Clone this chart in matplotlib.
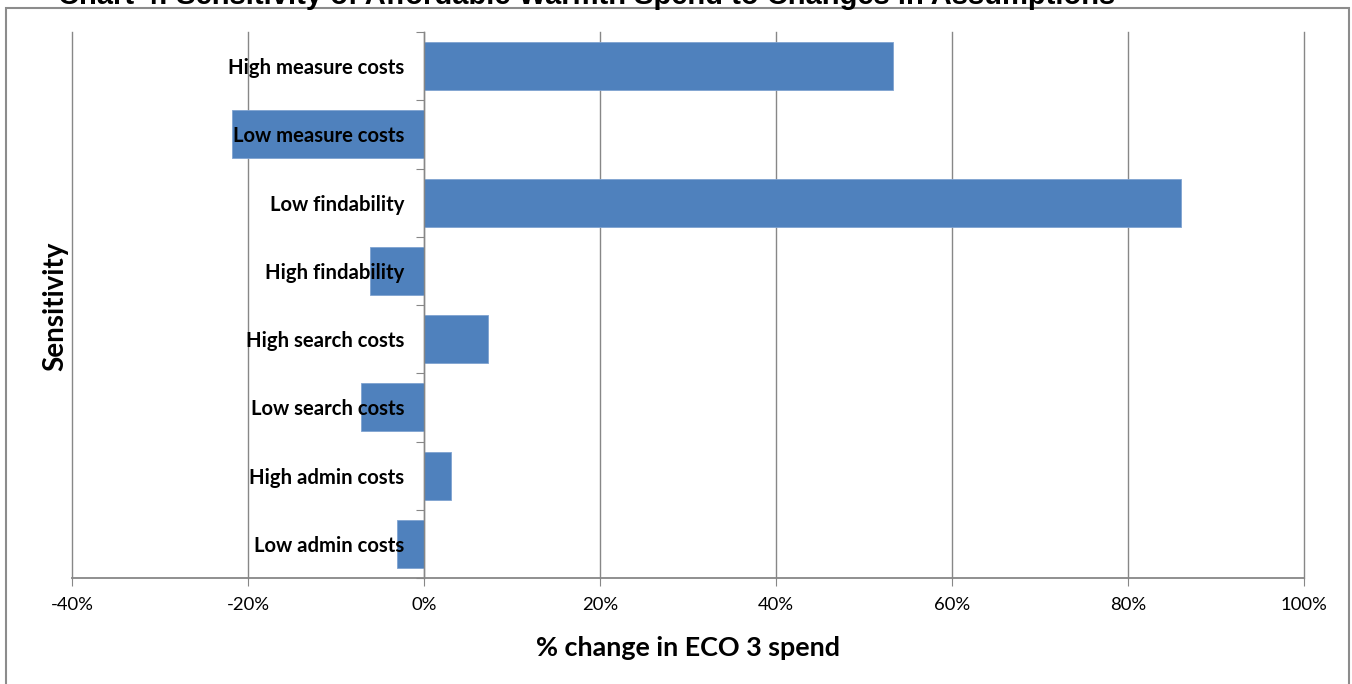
import matplotlib
matplotlib.use("Agg")
import matplotlib.pyplot as plt
from matplotlib.patches import Rectangle
from matplotlib.ticker import FixedLocator, PercentFormatter

plt.rcParams['font.family'] = ['Lato', 'DejaVu Sans']
plt.rcParams['axes.unicode_minus'] = False

categories = ["High measure costs", "Low measure costs", "Low findability",
              "High findability", "High search costs", "Low search costs",
              "High admin costs", "Low admin costs"]
values = [53.3, -21.8, 86.0, -6.1, 7.3, -7.2, 3.1, -3.1]
xticks = [-40, -20, 0, 20, 40, 60, 80, 100]
title = "Chart 4: Sensitivity of Affordable Warmth Spend to Changes in Assumptions"
xlabel = "% change in ECO 3 spend"
ylabel = "Sensitivity"

W, H = 1352, 684
fig = plt.figure(figsize=(W / 100, H / 100), dpi=100)
ax = fig.add_axes([72 / W, 1 - 578 / H, (1304 - 72) / W, (578 - 32) / H])

bar_color = "#4F81BD"
grid_color = "#878787"
n = len(categories)
ypos = list(range(n))
ax.barh(ypos, values, height=0.7, color=bar_color, edgecolor="#7fa3d1",
        linewidth=0.6, zorder=1)

ax.set_xlim(-40, 100)
ax.set_ylim(n - 0.5, -0.5)
ax.xaxis.set_major_locator(FixedLocator(xticks))
ax.xaxis.set_major_formatter(PercentFormatter(decimals=0))
for x in xticks:
    ax.axvline(x, color=grid_color, lw=1.0, zorder=0, clip_on=False)

for s in ["top", "right"]:
    ax.spines[s].set_visible(False)
ax.spines["left"].set_position(("data", 0))
ax.spines["left"].set_color(grid_color)
ax.spines["bottom"].set_color(grid_color)
ax.spines["left"].set_linewidth(1.0)
ax.spines["bottom"].set_linewidth(1.3)

# boundaries as major ticks, labels on minor ticks
ax.yaxis.set_major_locator(FixedLocator([i - 0.5 for i in range(n + 1)]))
ax.yaxis.set_major_formatter(plt.NullFormatter())
ax.yaxis.set_minor_locator(FixedLocator(ypos))
ax.set_yticklabels(categories, minor=True, fontsize=14.6, fontweight="bold")
ax.tick_params(axis="y", which="major", length=6, color=grid_color, direction="out")
ax.tick_params(axis="y", which="minor", length=0, pad=14)
ax.tick_params(axis="x", length=6, color=grid_color, labelsize=13.3, pad=8)

ax.set_xlabel(xlabel, fontsize=19.4, fontweight="bold", labelpad=16)
fig.text(55 / W, 1 - 306 / H, ylabel, rotation=90, fontsize=20, fontweight="bold",
         ha="center", va="center")

# outer chart border
fig.patches.append(Rectangle((6 / W, -0.05), (1349 - 6) / W, 1.05 - 8 / H,
                             transform=fig.transFigure, fill=False,
                             edgecolor="#8c8c8c", lw=1.5))
fig.text(58 / W, 1 + 4 / H, title, fontsize=21, fontweight="bold", ha="left",
         va="center", family=["Liberation Sans", "DejaVu Sans"])

fig.savefig("out.png", dpi=100)
